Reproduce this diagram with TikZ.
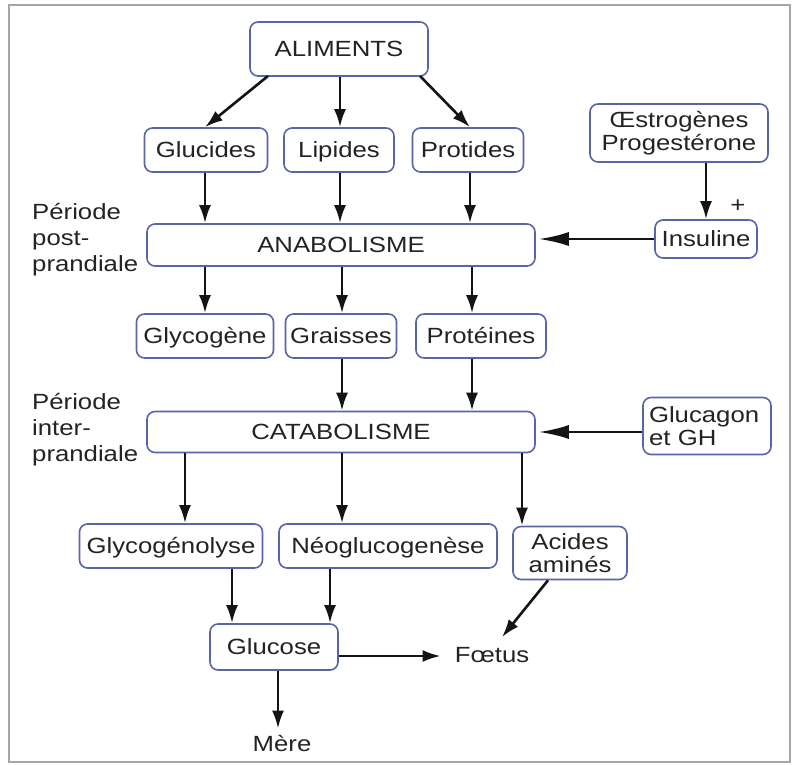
\documentclass[tikz,border=0pt]{standalone}
\usepackage{fontspec}
\setmainfont[FakeStretch=1.17]{Liberation Sans}
\usetikzlibrary{arrows.meta,calc}
\definecolor{boxblue}{RGB}{90,100,168}
\definecolor{txt}{RGB}{35,35,35}
\definecolor{ink}{RGB}{20,20,20}
\begin{document}
\begin{tikzpicture}[x=1pt,y=-1pt,
  every node/.style={text=txt,font=\fontsize{22}{26}\selectfont},
  box/.style={draw=boxblue,line width=1.6pt,rounded corners=8pt,fill=white,inner sep=0pt,minimum height=44pt,align=center},
  one/.style={text height=16pt,text depth=1pt},
  lbl/.style={inner sep=2pt,align=left},
  arr/.style={draw=ink,line width=2.6pt,-{Latex[length=18pt,width=12pt]}},
  harr/.style={draw=ink,line width=2.6pt,-{Latex[length=30pt,width=14pt]}}]
\useasboundingbox (0,0) rectangle (795,764);
\draw[gray!70,line width=1.5pt] (9,5) rectangle (790,762);

% nodes
\node[box,one,minimum width=178pt,minimum height=54pt] (ali) at (339,49) {ALIMENTS};
\node[box,one,minimum width=123pt] (glu) at (206,150) {Glucides};
\node[box,one,minimum width=110pt] (lip) at (339,150) {Lipides};
\node[box,one,minimum width=111pt] (pro) at (468,150) {Protides};
\node[box,minimum width=178pt,minimum height=58pt] (oes) at (679,133) {Œstrogènes\\[-3pt]Progestérone};
\node[box,one,minimum width=102pt,minimum height=38pt] (ins) at (706,239) {Insuline};
\node[box,one,minimum width=388pt,minimum height=42pt] (ana) at (341,245) {ANABOLISME};
\node[box,one,minimum width=137pt] (gly) at (205,336) {Glycogène};
\node[box,one,minimum width=111pt] (gra) at (341,336) {Graisses};
\node[box,one,minimum width=130pt] (prt) at (481,336) {Protéines};
\node[box,one,minimum width=388pt,minimum height=41pt] (cat) at (341,432) {CATABOLISME};
\node[box,minimum height=57pt,inner xsep=6pt,text width=116pt,align=left] (glg) at (707,426) {Glucagon\\[-3pt]et GH};
\node[box,one,minimum width=183pt] (gln) at (171,546) {Glycogénolyse};
\node[box,one,minimum width=218pt] (neo) at (388,546) {Néoglucogenèse};
\node[box,minimum width=114pt,minimum height=53pt] (aa) at (570,553) {Acides\\[-3pt]aminés};
\node[box,one,minimum width=128pt,minimum height=46pt] (glc) at (274,647) {Glucose};
\node[lbl] (foe) at (492,655) {Fœtus};
\node[lbl] (mer) at (282,743) {Mère};
\node[lbl,anchor=north west] (p1) at (30,201) {Période\\post-\\prandiale};
\node[lbl,anchor=north west] (p2) at (30,391) {Période\\inter-\\prandiale};
\node[lbl] (plus) at (738,206) {+};

% helper x coordinates
\coordinate (x205) at (205,0);
\coordinate (x340) at (340,0);
\coordinate (x342) at (342,0);
\coordinate (x470) at (470,0);
\coordinate (x472) at (472,0);
\coordinate (x185) at (185,0);
\coordinate (x522) at (522,0);
\coordinate (x232) at (232,0);
\coordinate (x330) at (330,0);
\coordinate (x278) at (278,0);
\coordinate (a1) at (268,76);
\coordinate (a3) at (420,76);

% arrows
\draw[arr] (a1) -- (glu.north -| x205);
\draw[arr] (ali.south -| x340) -- (lip.north -| x340);
\draw[arr] (a3) -- (pro.north -| x470);
\draw[arr] (glu.south -| x205) -- (ana.north -| x205);
\draw[arr] (lip.south -| x340) -- (ana.north -| x340);
\draw[arr] (pro.south -| x470) -- (ana.north -| x470);
\draw[arr] (ana.south -| x205) -- (gly.north -| x205);
\draw[arr] (ana.south -| x342) -- (gra.north -| x342);
\draw[arr] (ana.south -| x472) -- (prt.north -| x472);
\draw[arr] (gra.south -| x342) -- (cat.north -| x342);
\draw[arr] (prt.south -| x472) -- (cat.north -| x472);
\draw[arr] (cat.south -| x185) -- (gln.north -| x185);
\draw[arr] (cat.south -| x342) -- (neo.north -| x342);
\draw[arr] (cat.south -| x522) -- (aa.north -| x522);
\draw[arr] (gln.south -| x232) -- (glc.north -| x232);
\draw[arr] (neo.south -| x330) -- (glc.north -| x330);
\draw[arr] (glc.south -| x278) -- ([yshift=4pt]mer.north -| x278);
\draw[arr] (oes.south -| ins.north) -- (ins.north);
\draw[harr,shorten >=3pt] (ins.west) -- (ins.west -| ana.east);
\draw[harr,shorten >=3pt] (glg.west |- cat.east) -- (cat.east);
\draw[arr] ([xshift=-22pt]aa.south) -- ([xshift=10pt,yshift=8pt]foe.north);
\draw[arr,shorten >=12pt] ([yshift=-9pt]glc.east) -- ([yshift=-9pt]glc.east -| foe.west);
\end{tikzpicture}
\end{document}
